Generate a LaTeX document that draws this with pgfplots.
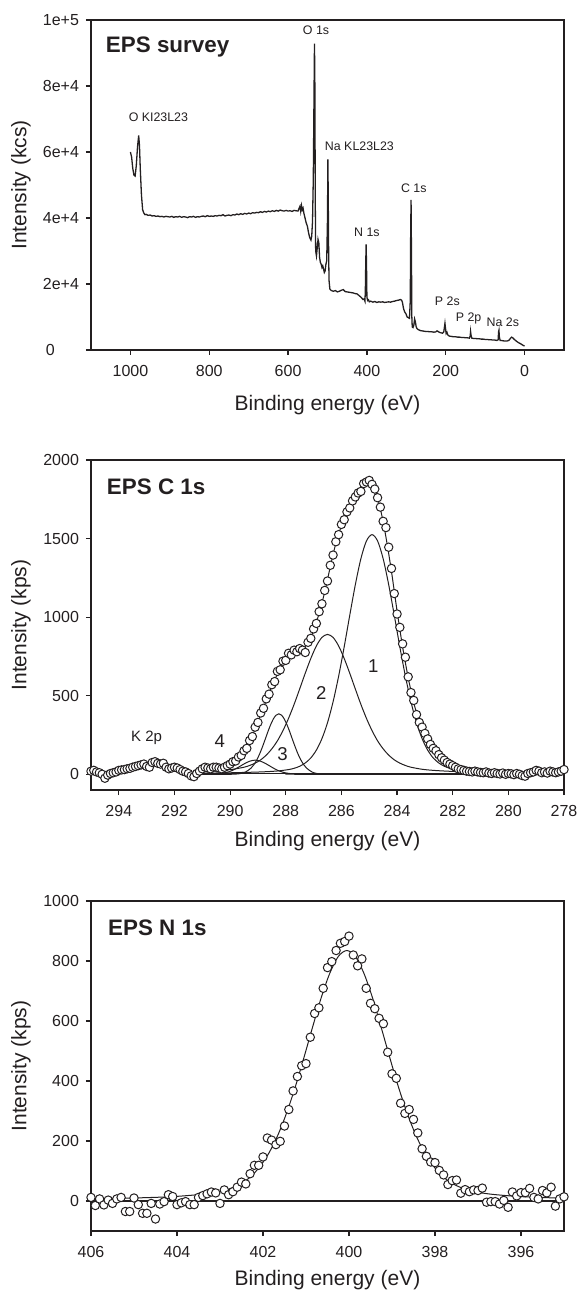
\documentclass[border=0pt]{standalone}
\usepackage{pgfplots}
\pgfplotsset{compat=1.18}
\usepackage{fontspec}
\setmainfont{Liberation Sans}
\definecolor{txt}{HTML}{231F20}
\pgfplotsset{
  panel/.style={
    width=236.5pt, height=165pt, scale only axis,
    x dir=reverse,
    axis line style={line width=0.6pt, draw=txt},
    tick align=outside, xtick pos=bottom, ytick pos=left,
    major tick length=2.5pt,
    every tick/.style={line width=0.6pt, draw=txt},
    /pgf/number format/assume math mode=true,
    /pgf/number format/1000 sep={},
    ticklabel style={font=\fontsize{8}{9}\selectfont, text=txt},
    xticklabel style={yshift=-1.8pt},
    label style={font=\fontsize{10.5}{12}\selectfont, text=txt},
    xlabel={Binding energy (eV)},
    xlabel style={at={(axis description cs:0.5,0)}, anchor=base, yshift=-28pt},
    ylabel style={at={(axis description cs:-0.148,0.5)}, anchor=center},
  },
  pts/.style={only marks, mark=*, mark size=2.1pt, mark options={fill=white, draw=txt, line width=0.5pt}},
  fit/.style={no markers, draw=txt, line width=0.5pt, smooth},
}
\newcommand{\ann}{\fontsize{6.2}{7}\selectfont}
\newcommand{\ttl}{\fontsize{11.2}{13}\selectfont\bfseries}
\begin{document}
\begin{tikzpicture}
\useasboundingbox (-45.5pt,10pt) rectangle (244pt,-637pt);
% ---------------- Survey
\begin{axis}[panel, at={(0,0)}, anchor=north west,
  xmin=-100, xmax=1100, ymin=0, ymax=100000,
  xtick={0,200,400,600,800,1000},
  ytick={0,20000,40000,60000,80000,100000},
  yticklabels={{\rlap{\hspace{1.5pt}0}\hphantom{2e+4}},2e+4,4e+4,6e+4,8e+4,1e+5},
  scaled y ticks=false,
  xlabel style={yshift=-2.5pt},
  ylabel={Intensity (kcs)}]
\addplot[no markers, draw=txt, line width=0.65pt] coordinates {
(1000,60000)(997,58500)(994,55000)(991,53000)(988,52700)(985,56000)(982,61500)(979,65000)(977,62000)(975,55000)(972,47000)(969,42500)(966,41500)(963,41000)(960,41100)(955,40800)(950,40900)(945,40600)(940,40700)(935,40500)(930,40600)(925,40400)(920,40500)(915,40300)(910,40500)(905,40400)(900,40300)(895,40500)(890,40200)(885,40400)(880,40300)(875,40500)(870,40200)(865,40400)(860,40300)(855,40100)(850,40400)(845,40300)(840,40500)(835,40200)(830,40400)(825,40300)(820,40500)(815,40600)(810,40400)(805,40700)(800,40500)(795,40600)(790,40500)(785,40700)(780,40600)(775,40800)(770,40700)(765,41000)(760,40600)(755,40800)(750,40900)(745,40700)(740,41000)(735,40900)(730,41200)(725,41000)(720,41300)(715,41100)(710,41400)(705,41200)(700,41500)(695,41300)(690,41600)(685,41500)(680,41700)(675,41600)(670,41900)(665,41700)(660,42000)(655,41800)(650,42100)(645,41900)(640,42200)(635,42000)(630,42300)(625,42100)(620,42400)(615,42200)(610,42100)(605,42300)(600,42100)(595,42200)(590,42000)(585,42300)(580,42200)(575,42100)(570,43500)(568,42000)(566,43800)(564,42500)(562,43000)(560,41500)(557,40000)(554,38500)(551,37500)(548,35500)(545,34000)(542,33300)(540,34500)(538,39000)(536,52000)(534,80000)(533,92800)(532,80000)(531,45000)(530,30000)(528,28500)(526,31000)(524,33500)(522,32500)(520,28000)(518,26500)(516,26000)(514,25000)(512,25500)(510,24500)(508,23500)(506,24000)(504,26000)(502,27000)(500,40000)(499,57800)(498,45000)(497,28000)(496,21000)(494,18500)(492,18200)(490,18000)(485,17800)(480,18000)(475,17600)(470,17800)(465,18100)(460,18300)(455,17700)(450,17600)(445,17500)(440,17400)(435,17300)(430,17100)(425,17000)(420,16500)(415,16000)(410,15300)(407,15500)(405,14800)(404,18000)(403,26000)(402,32000)(401,26000)(400,16000)(398,15000)(396,15200)(394,14600)(390,14800)(385,14500)(380,14700)(375,14400)(370,14600)(365,14500)(360,14600)(355,14400)(350,14500)(345,14600)(340,14500)(335,14700)(330,14800)(325,15000)(320,15100)(315,15300)(312,15100)(310,14500)(307,12500)(304,11500)(301,11000)(298,10000)(295,9800)(292,9600)(290,15000)(289,35000)(288,45500)(287,30000)(286,10000)(285,7000)(283,6800)(281,7500)(279,9400)(277,8500)(275,7000)(273,6500)(270,6200)(265,5900)(260,5800)(255,5700)(250,5600)(245,5600)(240,5500)(235,5500)(230,5400)(225,5500)(222,5800)(218,5500)(215,5300)(212,5200)(208,5100)(205,5500)(203,7200)(202,8100)(201,7000)(199,5000)(197,5400)(195,4600)(192,4300)(190,4200)(185,4100)(180,4000)(175,4000)(170,3900)(165,3900)(160,3800)(155,3800)(150,3700)(145,3700)(140,3600)(138,4200)(137,5600)(136,4600)(134,3600)(130,3500)(125,3500)(120,3400)(115,3400)(110,3300)(105,3300)(100,3200)(95,3200)(90,3100)(85,3100)(80,3000)(75,3000)(70,2900)(67,3100)(66,5500)(65,6000)(64,4000)(62,2900)(60,2900)(55,2800)(50,2700)(45,2700)(40,2900)(36,3500)(33,3900)(30,3700)(27,3300)(24,3000)(20,2600)(15,2200)(10,1900)(5,1500)(2,1300)(0,1200)};
\node[anchor=base west, inner sep=0pt, text=txt, font=\ttl] at (axis cs:1063,90300) {EPS survey};
\node[anchor=base, text=txt, font=\ann] at (axis cs:529,95660) {O 1s};
\node[anchor=base, text=txt, font=\ann] at (axis cs:929,69090) {O KI23L23};
\node[anchor=base, text=txt, font=\ann] at (axis cs:419,60600) {Na KL23L23};
\node[anchor=base, text=txt, font=\ann] at (axis cs:281,47660) {C 1s};
\node[anchor=base, text=txt, font=\ann] at (axis cs:400,34540) {N 1s};
\node[anchor=base, text=txt, font=\ann] at (axis cs:196,13420) {P 2s};
\node[anchor=base, text=txt, font=\ann] at (axis cs:142,8575) {P 2p};
\node[anchor=base, text=txt, font=\ann] at (axis cs:55,7060) {Na 2s};
\end{axis}
% ---------------- C 1s
\begin{axis}[panel, at={(0,-220pt)}, anchor=north west,
  xmin=278, xmax=295, ymin=-100, ymax=2000,
  xtick={278,280,...,294},
  ytick={0,500,1000,1500,2000},
  ylabel={Intensity (kps)}]
\addplot[no markers, draw=txt, line width=0.5pt] coordinates {(291,3)(281.5,3)};
% component 1
\addplot[fit] coordinates {(281.5,21)(281.9,30)(282.1,38)(282.3,51)(282.5,72)(282.7,104)(282.9,154)(283.1,227)(283.3,328)(283.5,461)(283.7,624)(283.9,811)(284.1,1012)(284.3,1206)(284.5,1372)(284.7,1485)(284.9,1525)(285.1,1485)(285.3,1372)(285.5,1206)(285.7,1012)(285.9,811)(286.1,624)(286.3,461)(286.5,328)(286.7,227)(286.9,154)(287.1,104)(287.3,72)(287.5,51)(287.7,38)(287.9,30)(288.3,21)(288.9,15)(289.9,10)(291.0,7)};
% component 2
\addplot[fit] coordinates {(281.5,15)(282.1,19)(282.7,25)(283.1,32)(283.5,45)(283.7,56)(283.9,71)(284.1,92)(284.3,122)(284.5,162)(284.7,213)(284.9,278)(285.1,356)(285.3,445)(285.5,543)(285.7,643)(285.9,737)(286.1,817)(286.3,871)(286.5,890)(286.7,871)(286.9,817)(287.1,737)(287.3,643)(287.5,543)(287.7,445)(287.9,356)(288.1,278)(288.3,213)(288.5,162)(288.7,122)(288.9,92)(289.1,71)(289.3,56)(289.5,45)(289.9,32)(290.3,25)(290.9,19)(291.0,18)};
% component 3
\addplot[fit] coordinates {(281.5,0)(286.5,0)(286.85,4)(287.05,14)(287.25,39)(287.35,60)(287.45,89)(287.55,125)(287.65,169)(287.75,217)(287.85,267)(287.95,313)(288.05,351)(288.15,376)(288.25,385)(288.35,376)(288.45,351)(288.55,313)(288.65,267)(288.75,217)(288.85,169)(288.95,125)(289.05,89)(289.15,60)(289.25,39)(289.45,14)(289.65,4)(290.0,0)(291.0,0)};
% component 4
\addplot[fit] coordinates {(281.5,0)(287.5,0)(287.9,6)(288.1,13)(288.3,26)(288.5,45)(288.7,66)(288.9,83)(289.1,90)(289.3,83)(289.5,66)(289.7,45)(289.9,26)(290.1,13)(290.3,6)(290.7,0)(291.0,0)};
% envelope
\addplot[fit] coordinates {(291.0,30)(290.6,38)(290.2,50)(290.0,62)(289.8,90)(289.6,125)(289.4,170)(289.2,245)(289.0,335)(288.8,425)(288.6,515)(288.4,600)(288.2,675)(288.0,730)(287.8,770)(287.6,790)(287.4,800)(287.2,835)(287.0,915)(286.8,1025)(286.6,1160)(286.4,1320)(286.2,1470)(286.0,1580)(285.8,1665)(285.6,1735)(285.4,1800)(285.2,1850)(285.0,1865)(284.8,1815)(284.6,1690)(284.4,1510)(284.2,1290)(284.0,1040)(283.8,810)(283.6,615)(283.4,455)(283.2,335)(283.0,250)(282.8,185)(282.6,140)(282.4,105)(282.2,80)(282.0,58)(281.8,42)(281.5,30)};
\addplot[pts] coordinates {(295.0,20)(294.9,25)(294.8,15)(294.7,10)(294.6,0)(294.5,-25)(294.4,-5)(294.3,5)(294.2,10)(294.1,15)(294.0,25)(293.9,28)(293.8,30)(293.7,35)(293.6,38)(293.5,45)(293.4,50)(293.3,55)(293.2,60)(293.1,65)(293.0,50)(292.9,45)(292.8,75)(292.7,80)(292.6,70)(292.5,65)(292.4,70)(292.3,45)(292.2,35)(292.1,40)(292.0,45)(291.9,40)(291.8,30)(291.7,20)(291.6,15)(291.5,5)(291.4,-10)(291.3,-15)(291.2,5)(291.1,20)(291.0,35)(290.9,45)(290.8,40)(290.7,35)(290.6,45)(290.5,45)(290.4,40)(290.3,35)(290.2,45)(290.1,55)(290.0,65)(289.9,80)(289.8,85)(289.7,110)(289.6,120)(289.5,150)(289.4,165)(289.3,215)(289.2,240)(289.1,300)(289.0,330)(288.9,390)(288.8,420)(288.7,480)(288.6,510)(288.5,570)(288.4,590)(288.3,655)(288.2,665)(288.1,720)(288.0,725)(287.9,770)(287.8,760)(287.7,790)(287.6,780)(287.5,800)(287.4,790)(287.3,775)(287.2,840)(287.1,865)(287.0,925)(286.9,960)(286.8,1035)(286.7,1085)(286.6,1170)(286.5,1230)(286.4,1330)(286.3,1395)(286.2,1480)(286.1,1525)(286.0,1590)(285.9,1620)(285.8,1670)(285.7,1695)(285.6,1740)(285.5,1765)(285.4,1790)(285.3,1800)(285.2,1850)(285.1,1860)(285.0,1870)(284.9,1845)(284.8,1815)(284.7,1760)(284.6,1700)(284.5,1610)(284.4,1570)(284.3,1445)(284.2,1310)(284.1,1150)(284.0,1020)(283.9,935)(283.8,830)(283.7,745)(283.6,620)(283.5,520)(283.4,470)(283.3,380)(283.2,330)(283.1,300)(283.0,260)(282.9,225)(282.8,190)(282.7,165)(282.6,150)(282.5,125)(282.4,105)(282.3,90)(282.2,75)(282.1,65)(282.0,55)(281.9,45)(281.8,35)(281.7,30)(281.6,25)(281.5,20)(281.4,18)(281.3,15)(281.2,20)(281.1,15)(281.0,12)(280.9,10)(280.8,15)(280.7,8)(280.6,5)(280.5,10)(280.4,5)(280.3,2)(280.2,8)(280.1,0)(280.0,5)(279.9,3)(279.8,-2)(279.7,5)(279.6,0)(279.5,-8)(279.4,-12)(279.3,5)(279.2,10)(279.1,15)(279.0,25)(278.9,20)(278.8,10)(278.7,15)(278.6,8)(278.5,20)(278.4,15)(278.3,10)(278.2,15)(278.1,20)(278.0,30)};
\node[anchor=base west, inner sep=0pt, text=txt, font=\ttl] at (axis cs:294.44,1783) {EPS C 1s};
\node[anchor=base, text=txt, font=\fontsize{9.3}{10}\selectfont] at (axis cs:284.85,648) {1};
\node[anchor=base, text=txt, font=\fontsize{9.3}{10}\selectfont] at (axis cs:286.72,476) {2};
\node[anchor=base, text=txt, font=\fontsize{9.3}{10}\selectfont] at (axis cs:288.12,85) {3};
\node[anchor=base, text=txt, font=\fontsize{9.3}{10}\selectfont] at (axis cs:290.37,168) {4};
\node[anchor=base, text=txt, font=\fontsize{7.5}{8}\selectfont] at (axis cs:293.0,206) {K 2p};
\end{axis}
% ---------------- N 1s
\begin{axis}[panel, at={(0,-440.5pt)}, anchor=north west,
  xmin=395, xmax=406, ymin=-100, ymax=1000,
  xtick={396,398,...,406},
  ytick={0,200,...,1000},
  xlabel style={yshift=1pt},
  ylabel={Intensity (kps)}]
\addplot[no markers, draw=txt, line width=0.6pt] coordinates {(406,0)(395,0)};
\addplot[fit] coordinates {(395.0,9)(395.55,12)(396.05,15)(396.65,22)(397.05,30)(397.25,37)(397.45,48)(397.65,63)(397.85,86)(398.05,119)(398.25,163)(398.45,221)(398.65,294)(398.85,380)(399.05,477)(399.25,578)(399.45,676)(399.65,758)(399.85,815)(400.05,835)(400.25,815)(400.45,758)(400.65,676)(400.85,578)(401.05,477)(401.25,380)(401.45,294)(401.65,221)(401.85,163)(402.05,119)(402.25,86)(402.45,63)(402.65,48)(402.85,37)(403.05,30)(403.45,22)(404.05,15)(404.55,12)(405.05,10)(406.0,7)};
\addplot[pts] coordinates {(406.0,12)(405.9,-15)(405.8,7)(405.7,-13)(405.6,3)(405.5,-8)(405.4,7)(405.3,12)(405.2,-35)(405.1,-35)(405.0,10)(404.9,-12)(404.8,-41)(404.7,-41)(404.6,-8)(404.5,-60)(404.4,-10)(404.3,-2)(404.2,21)(404.1,15)(404.0,-12)(403.9,-6)(403.8,-2)(403.7,-12)(403.6,-12)(403.5,12)(403.4,18)(403.3,24)(403.2,30)(403.1,27)(403.0,-8)(402.9,37)(402.8,21)(402.7,31)(402.6,46)(402.5,63)(402.4,57)(402.3,91)(402.2,119)(402.1,119)(402.0,147)(401.9,210)(401.8,203)(401.7,188)(401.6,199)(401.5,250)(401.4,305)(401.3,367)(401.2,415)(401.1,451)(401.0,458)(400.9,546)(400.8,625)(400.7,644)(400.6,709)(400.5,778)(400.4,798)(400.3,835)(400.2,859)(400.1,865)(400.0,883)(399.9,820)(399.8,784)(399.7,807)(399.6,709)(399.5,659)(399.4,641)(399.3,609)(399.2,591)(399.1,496)(399.0,424)(398.9,409)(398.8,326)(398.7,292)(398.6,305)(398.5,272)(398.4,227)(398.3,174)(398.2,149)(398.1,130)(398.0,128)(397.9,102)(397.8,87)(397.7,55)(397.6,68)(397.5,70)(397.4,26)(397.3,38)(397.2,31)(397.1,37)(397.0,35)(396.9,43)(396.8,-4)(396.7,-2)(396.6,-2)(396.5,-10)(396.4,2)(396.3,-21)(396.2,30)(396.1,17)(396.0,28)(395.9,28)(395.8,42)(395.7,12)(395.6,7)(395.5,35)(395.4,27)(395.3,46)(395.2,-17)(395.1,7)(395.0,14)};
\node[anchor=base west, inner sep=0pt, text=txt, font=\ttl] at (axis cs:405.61,885) {EPS N 1s};
\end{axis}
\end{tikzpicture}
\end{document}
